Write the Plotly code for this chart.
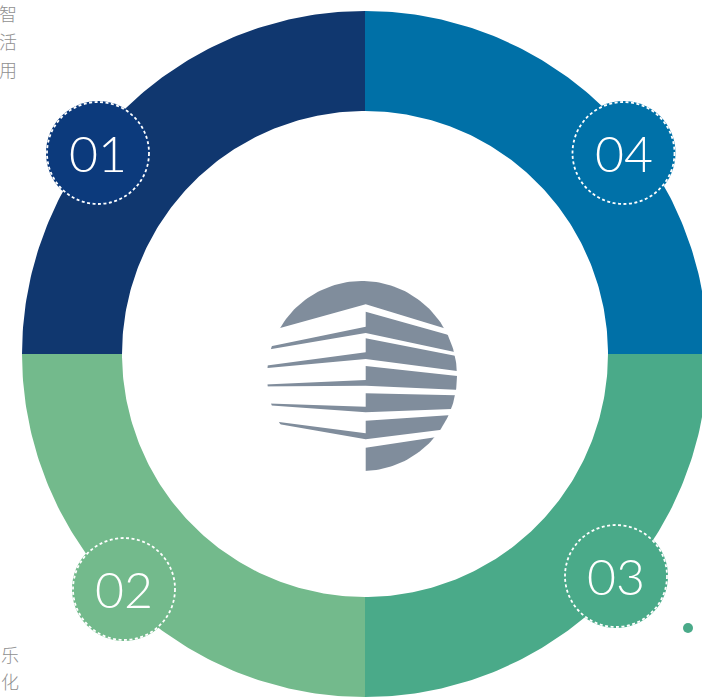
import numpy as np
import plotly.graph_objects as go

# ---------------- data ----------------
labels = ["01", "02", "03", "04"]          # counter-clockwise from 12 o'clock
values = [25, 25, 25, 25]
ring_colors = ["#10376f", "#73ba8c", "#4aaa89", "#0070a7"]
badge_colors = ["#0c3a7c", "#73ba8c", "#4aaa89", "#0071a8"]
side_top = ["智", "活", "用"]
side_bottom = ["乐", "化"]

# ---------------- layout geometry ----------------
W, H = 702, 697
CX, CY = 365, 354
R_OUT, R_IN = 343, 243
badge_pos = {"01": (98, 153), "02": (124, 589), "03": (616, 576), "04": (623.5, 153)}
badge_r = 51

fig = go.Figure()

# ring sectors from values
total = sum(values)
cum = 0
for lab, v, col in zip(labels, values, ring_colors):
    a0 = np.pi / 2 + 2 * np.pi * cum / total
    a1 = np.pi / 2 + 2 * np.pi * (cum + v) / total
    cum += v
    t = np.linspace(a0, a1, 120)
    xo = CX + R_OUT * np.cos(t)
    yo = CY - R_OUT * np.sin(t)
    xi = CX + R_IN * np.cos(t[::-1])
    yi = CY - R_IN * np.sin(t[::-1])
    xs = np.concatenate([xo, xi, xo[:1]])
    ys = np.concatenate([yo, yi, yo[:1]])
    fig.add_trace(go.Scatter(x=xs, y=ys, mode="lines", fill="toself",
                             fillcolor=col, line=dict(width=0, color=col),
                             hoverinfo="skip", showlegend=False, name=lab))

# ---------------- center logo ----------------
LOGO_C = (362, 376)
LOGO_R = 95
GRAY = "#808d9c"
t = np.linspace(0, 2 * np.pi, 200)
fig.add_trace(go.Scatter(x=LOGO_C[0] + LOGO_R * np.cos(t), y=LOGO_C[1] + LOGO_R * np.sin(t),
                         mode="lines", fill="toself", fillcolor=GRAY,
                         line=dict(width=0, color=GRAY), hoverinfo="skip", showlegend=False))

XB = 365.7
XL, XR = 250, 478
V = (680, 400)
PEAK = (365.7, 304.3)
DOME_L = (280, 328)
band_top = [311.7, 338.3, 366, 393.3, 420.7, 447.7]
band_bot = [333, 359, 385.7, 412.3, 439.3]
wedge_top = [326.7, 352.3, 380, 406.7, 433.3]
wedge_left = [(271.7, 346, 349), (267, 365.5, 368), (267, 384.5, 386.5),
              (270, 403.5, 405.5), (278.7, 422, 424)]


def ly(p, q, x):
    return p[1] + (q[1] - p[1]) * (x - p[0]) / (q[0] - p[0])


def vr(y0):  # right-hand perspective line starting at (XB, y0)
    return ly((XB, y0), V, XR)


def wt_left(k):
    xl, yt, yb = wedge_left[k]
    return ly((XB, wedge_top[k]), (xl, yt), XL)


def wb_left(k):
    xl, yt, yb = wedge_left[k]
    return ly((XB, band_bot[k]), (xl, yb), XL)


gaps = []
# gap between dome and floor 1
gaps.append([(XL, ly(PEAK, DOME_L, XL)), PEAK, (XR, vr(PEAK[1])),
             (XR, vr(band_top[0])), (XB, band_top[0]), (XB, wedge_top[0]), (XL, wt_left(0))])
for k in range(4):
    gaps.append([(XL, wb_left(k)), (XB, band_bot[k]), (XR, vr(band_bot[k])),
                 (XR, vr(band_top[k + 1])), (XB, band_top[k + 1]), (XB, wedge_top[k + 1]),
                 (XL, wt_left(k + 1))])
gaps.append([(XL, wb_left(4)), (XB, band_bot[4]), (XR, vr(band_bot[4])),
             (XR, vr(band_top[5])), (XB, band_top[5]), (XB, 490), (XL, 490)])
for g in gaps:
    gx = [p[0] for p in g] + [g[0][0]]
    gy = [p[1] for p in g] + [g[0][1]]
    fig.add_trace(go.Scatter(x=gx, y=gy, mode="lines", fill="toself", fillcolor="white",
                             line=dict(width=0, color="white"), hoverinfo="skip",
                             showlegend=False))

# ---------------- badges ----------------
for lab, col in zip(labels, badge_colors):
    bx, by = badge_pos[lab]
    fig.add_shape(type="circle", xref="x", yref="y",
                  x0=bx - badge_r - 1, x1=bx + badge_r + 1, y0=by - badge_r - 1, y1=by + badge_r + 1,
                  fillcolor=col, line=dict(width=0), layer="above")
    fig.add_shape(type="circle", xref="x", yref="y",
                  x0=bx - badge_r, x1=bx + badge_r, y0=by - badge_r, y1=by + badge_r,
                  fillcolor="rgba(0,0,0,0)", line=dict(color="white", width=1.8, dash="3px,2.5px"),
                  layer="above")
    fig.add_annotation(x=bx, y=by, text=lab, showarrow=False, xref="x", yref="y",
                       font=dict(family="Lato", size=50, color="white", weight=300),
                       xanchor="center", yanchor="middle")

# small dot
fig.add_shape(type="circle", xref="x", yref="y", x0=683, x1=693, y0=623, y1=633,
              fillcolor="#4aaa89", line=dict(width=0))

# side text
for ch, yy in zip(side_top, [13, 41, 69]):
    fig.add_annotation(x=8, y=yy, text=ch, showarrow=False, xref="x", yref="y",
                       font=dict(family="Noto Sans CJK SC", size=18, color="#909090", weight=300),
                       xanchor="center", yanchor="middle")
for ch, yy in zip(side_bottom, [654, 681]):
    fig.add_annotation(x=10, y=yy, text=ch, showarrow=False, xref="x", yref="y",
                       font=dict(family="Noto Sans CJK SC", size=18, color="#909090", weight=300),
                       xanchor="center", yanchor="middle")

fig.update_layout(
    width=W, height=H,
    margin=dict(l=0, r=0, t=0, b=0),
    paper_bgcolor="white", plot_bgcolor="white",
    showlegend=False,
    xaxis=dict(range=[0, W], visible=False, fixedrange=True),
    yaxis=dict(range=[H, 0], visible=False, fixedrange=True),
)

fig.write_html("out.html", config={"displayModeBar": False},
               post_script="document.body.style.margin='0';document.body.style.overflow='hidden';")
